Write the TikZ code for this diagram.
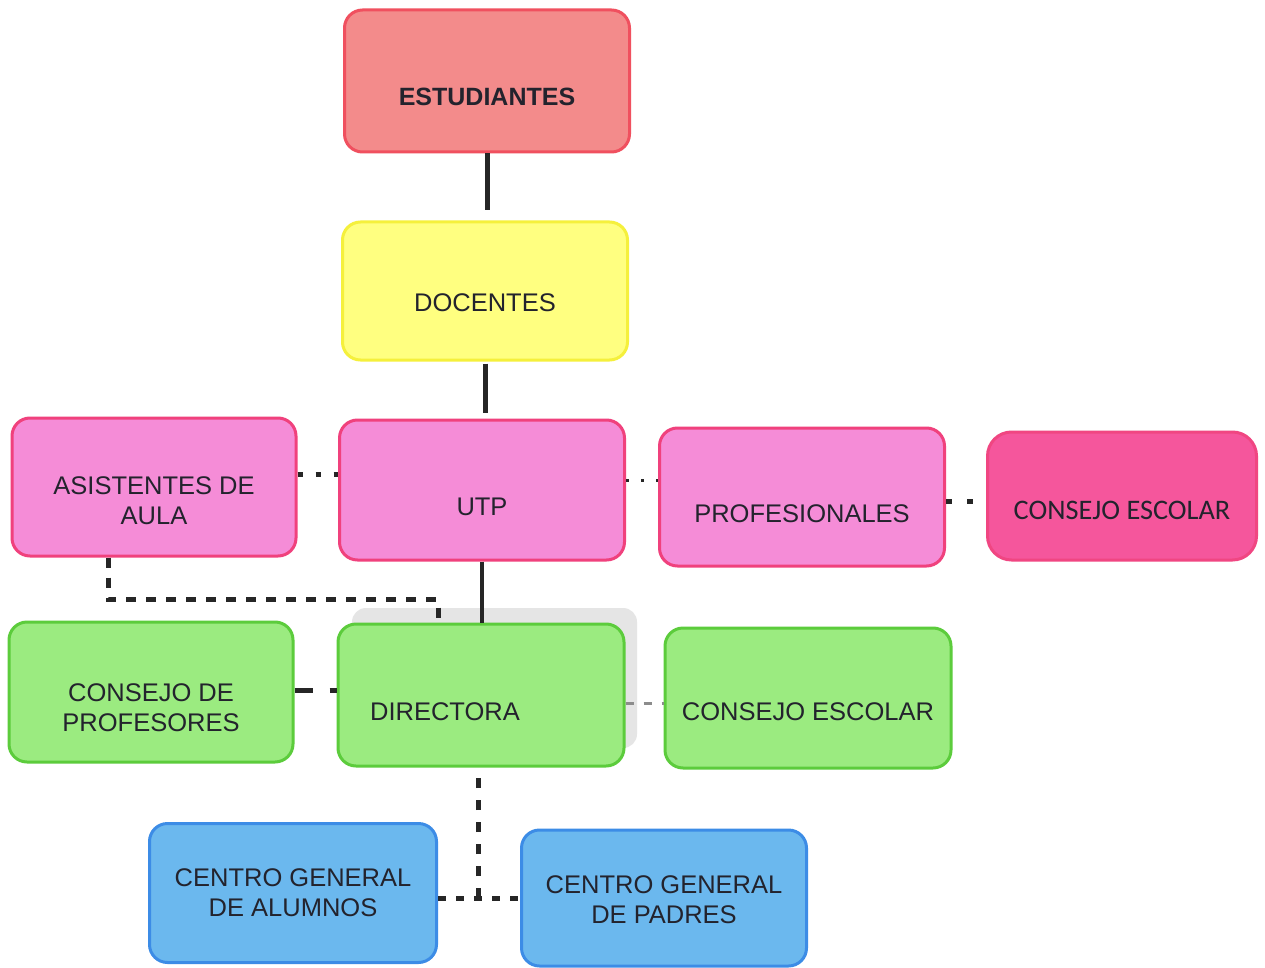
\documentclass[tikz,border=0pt]{standalone}
\usepackage{fontspec}
\setmainfont{Liberation Sans}
\newfontfamily\calibri{Carlito}
\usetikzlibrary{calc}
\definecolor{estfill}{RGB}{243,139,139}
\definecolor{estdraw}{RGB}{240,80,95}
\definecolor{docfill}{RGB}{255,255,128}
\definecolor{docdraw}{RGB}{245,240,60}
\definecolor{pinkfill}{RGB}{245,140,215}
\definecolor{pinkdraw}{RGB}{240,65,125}
\definecolor{magfill}{RGB}{245,86,156}
\definecolor{magdraw}{RGB}{240,70,130}
\definecolor{grnfill}{RGB}{155,235,128}
\definecolor{grndraw}{RGB}{92,204,60}
\definecolor{blufill}{RGB}{107,184,238}
\definecolor{bludraw}{RGB}{60,140,230}
\definecolor{txt}{RGB}{35,35,45}
\tikzset{
  box/.style={draw, line width=3pt, rounded corners=18pt, inner sep=0pt},
  redbox/.style={box, fill=estfill, draw=estdraw},
  yelbox/.style={box, fill=docfill, draw=docdraw},
  pinkbox/.style={box, fill=pinkfill, draw=pinkdraw},
  magbox/.style={box, fill=magfill, draw=magdraw, rounded corners=24pt},
  grnbox/.style={box, fill=grnfill, draw=grndraw},
  blubox/.style={box, fill=blufill, draw=bludraw},
  lab/.style={text=txt, align=center, font=\fontsize{25.5}{30}\selectfont},
  conn/.style={draw=black!85, line width=5pt},
}
\begin{document}
\begin{tikzpicture}[x=1pt,y=-1pt]
\useasboundingbox[fill=white] (0,0) rectangle (1265,968);
% shadow behind directora
\fill[black!10, rounded corners=14pt] (352,608) rectangle (637,748);

\node[redbox, minimum width=285pt, minimum height=142pt,
  label={[lab, yshift=-16pt, font=\fontsize{25}{30}\selectfont\bfseries]center:ESTUDIANTES}] (est) at (487,81) {};
\node[yelbox, minimum width=285pt, minimum height=138pt,
  label={[lab, yshift=-12pt]center:DOCENTES}] (doc) at (485,291) {};
\node[pinkbox, minimum width=284pt, minimum height=138pt,
  label={[lab, yshift=-14pt]center:ASISTENTES DE\\AULA}] (asis) at (154,487) {};
\node[pinkbox, minimum width=285pt, minimum height=140pt,
  label={[lab, yshift=-17pt]center:UTP}] (utp) at (482,490) {};
\node[pinkbox, minimum width=285pt, minimum height=138pt,
  label={[lab, yshift=-17pt]center:PROFESIONALES}] (prof) at (802,497) {};
\node[magbox, minimum width=269pt, minimum height=128pt,
  label={[lab, yshift=-14pt, font=\calibri\fontsize{28.3}{32}\selectfont]center:CONSEJO ESCOLAR}] (cesc1) at (1122,496) {};
\node[grnbox, minimum width=284pt, minimum height=140pt,
  label={[lab, yshift=-16pt]center:CONSEJO DE\\PROFESORES}] (cprof) at (151,692) {};
\node[grnbox, minimum width=286pt, minimum height=142pt,
  label={[lab, xshift=-36pt, yshift=-17pt]center:DIRECTORA}] (dir) at (481,695) {};
\node[grnbox, minimum width=286pt, minimum height=140pt,
  label={[lab, yshift=-14pt]center:CONSEJO ESCOLAR}] (cesc2) at (808,698) {};
\node[blubox, minimum width=287pt, minimum height=139pt,
  label={[lab]center:CENTRO GENERAL\\DE ALUMNOS}] (cga) at (293,893) {};
\node[blubox, minimum width=285pt, minimum height=136pt,
  label={[lab, yshift=-2pt]center:CENTRO GENERAL\\DE PADRES}] (cgp) at (664,898) {};

\coordinate (junc) at ([xshift=-3pt]dir.south |- cgp.west);

% solid connectors
\draw[conn, shorten >=10pt] (est.south) -- (est.south |- doc.north);
\draw[conn, shorten <=2pt, shorten >=6pt] (doc.south) -- (doc.south |- utp.north);
\draw[conn, line width=4pt] (utp.south) -- (utp.south |- dir.north);

% dotted / dashed connectors
\draw[conn, dash pattern=on 5pt off 13pt] ([yshift=13pt]asis.east) -- ([yshift=13pt]asis.east -| utp.west);
\draw[conn, line width=3pt, dash pattern=on 3pt off 12pt] ([yshift=10pt]utp.east) -- ([yshift=10pt]utp.east -| prof.west);
\draw[conn, dash pattern=on 6pt off 15pt] ([yshift=-4pt]prof.east) -- ([yshift=-4pt]prof.east -| cesc1.west);
\draw[conn, dash pattern=on 10pt off 10pt]
  ([xshift=-46pt]asis.south) |- ([xshift=-43pt,yshift=23pt]dir.north) -- ([xshift=-43pt]dir.north);
\draw[conn, dash pattern=on 18pt off 17pt] ([yshift=2pt]cprof.east) -- ([yshift=2pt]cprof.east -| dir.west);
\draw[conn, draw=black!45, line width=3pt, dash pattern=on 8pt off 10pt] ([yshift=-8pt]dir.east) -- ([yshift=-8pt]dir.east -| cesc2.west);
\draw[conn, dash pattern=on 10pt off 12pt] (junc) -- ([xshift=-3pt]dir.south);
\draw[conn, dash pattern=on 8pt off 10pt] (cgp.west -| cga.east) -- (cgp.west);
\end{tikzpicture}
\end{document}
